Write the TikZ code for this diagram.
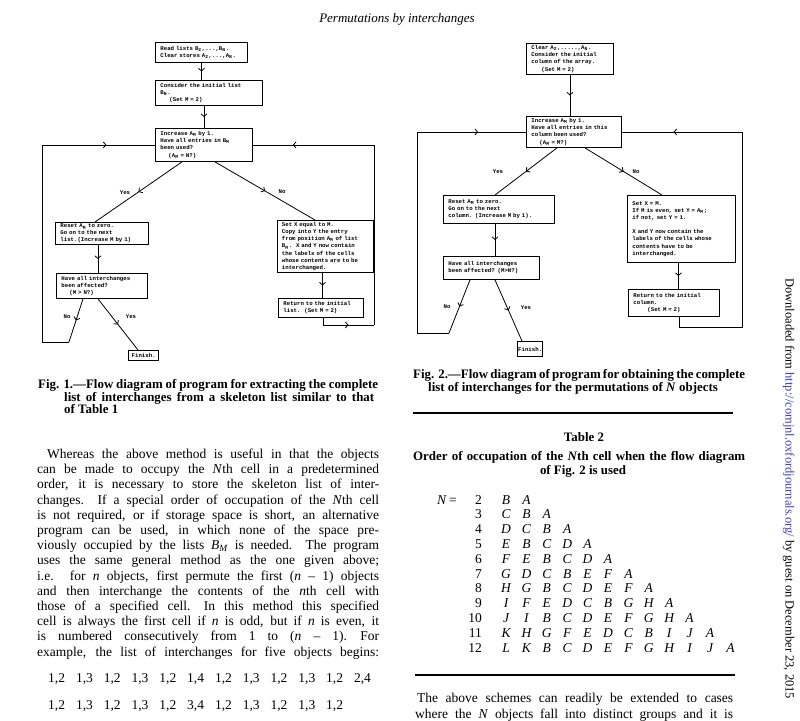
\documentclass[tikz,border=0pt]{standalone}
\usepackage{fontspec}
\setmainfont{Liberation Serif}
\newfontfamily\twfont{Liberation Mono}
\usetikzlibrary{arrows.meta,decorations.markings}
\newcommand{\mysub}[1]{\raisebox{-1.1pt}{\makebox[3.42pt][l]{\fontsize{4.6}{5}\selectfont #1}}}
\definecolor{linkblue}{RGB}{60,60,200}
\begin{document}
\begin{tikzpicture}[x=1pt,y=-1pt,
  fbox/.style={draw, line width=0.9pt, anchor=north west, inner xsep=5pt, inner ysep=0.5pt,
    align=left, font=\twfont\bfseries\fontsize{5.7}{7.1}\selectfont},
  finbox/.style={fbox, line width=1.4pt, align=center},
  lbl/.style={inner sep=0pt, font=\twfont\bfseries\fontsize{5.7}{7}\selectfont},
  conn/.style={line width=0.8pt},
  midarrow/.style={conn, postaction={decorate}, decoration={markings,
    mark=at position #1 with {\arrow{Straight Barb[length=2.6pt,width=6pt,line width=0.8pt]}}}},
  midarrow/.default=0.5,
  bodytxt/.style={anchor=base west, inner sep=0pt, font=\fontsize{13.5}{15}\selectfont},
  captxt/.style={anchor=base west, inner sep=0pt, font=\bfseries\fontsize{12.9}{14}\selectfont},
  captc/.style={anchor=base, inner sep=0pt, font=\bfseries\fontsize{12.9}{14}\selectfont},
  numtxt/.style={anchor=base east, inner sep=0pt, font=\fontsize{13.5}{15}\selectfont},
  lettxt/.style={anchor=base, inner sep=0pt, font=\itshape\fontsize{13.5}{15}\selectfont},
  rulel/.style={line width=1.1pt}]
\clip (0,0) rectangle (800,720);
\fill[white] (0,0) rectangle (800,720);

% header
\node[anchor=base, inner sep=0pt, font=\itshape\fontsize{13}{15}\selectfont] (hdr) at (397,22) {Permutations by interchanges};

% ---------------- Fig. 1 ----------------
\node[fbox, minimum width=92pt, minimum height=20pt, text width=82pt] (a1) at (155,42)
  {Read lists B\mysub{2},...,B\mysub{N}.\\Clear stores A\mysub{2},...,A\mysub{N}.};
\node[fbox, minimum width=107pt, minimum height=25pt, text width=97pt] (a2) at (155,80)
  {Consider the initial list\\B\mysub{N}.\\\hspace*{9pt}(Set M = 2)};
\node[fbox, minimum width=97pt, minimum height=33pt, text width=87pt] (a3) at (155,128)
  {Increase A\mysub{M} by 1.\\Have all entries in B\mysub{M}\\been used?\\\hspace*{8pt}(A\mysub{M} = N?)};
\node[fbox, minimum width=93pt, minimum height=22pt, text width=83pt,
  font=\twfont\bfseries\fontsize{5.7}{6.8}\selectfont] (a4) at (55,222)
  {Reset A\mysub{M} to zero.\\Go on to the next\\list.(Increase M by 1)};
\node[fbox, minimum width=96pt, minimum height=52pt, text width=87pt, inner xsep=4.5pt] (a5) at (277,220)
  {Set X equal to M.\\Copy into Y the entry\\from position A\mysub{M} of list\\B\mysub{M}.~~X and Y now contain\\the labels of the cells\\whose contents are to be\\interchanged.};
\node[fbox, minimum width=85pt, minimum height=19pt, text width=75pt] (a6) at (278,298)
  {Return to the initial\\list.~~(Set M = 2)};
\node[fbox, minimum width=91pt, minimum height=25pt, text width=81pt] (a7) at (56,273)
  {Have all interchanges\\been affected?\\\hspace*{8pt}(M > N?)};
\node[finbox, minimum width=30pt, minimum height=10pt, text width=25pt, inner xsep=2.5pt] (a8) at (128,350) {Finish.};

\draw[midarrow] (a1.south) -- (a1.south |- a2.north);
\draw[midarrow] (a3.north |- a2.south) -- (a3.north);
\draw[midarrow] ([xshift=27pt]a3.south west) -- ([xshift=40pt]a4.north west);
\draw[midarrow] ([xshift=60pt]a3.south west) -- ([xshift=38pt]a5.north west);
\coordinate (a4s) at ([xshift=-4pt]a4.south);
\draw[midarrow] (a4s) -- (a4s |- a7.north);
\coordinate (a5s) at ([xshift=-3pt]a5.south);
\draw[midarrow] (a5s) -- (a5s |- a6.north);
\draw[midarrow] ([xshift=42pt]a7.south west) -- ([xshift=10pt]a8.north west);
\coordinate (c1) at (69,342);
\coordinate (c2) at (42,342);
\draw[midarrow] ([xshift=27pt]a7.south west) -- (c1);
\draw[conn] (c1) -- (c2) -- (c2 |- a3.west);
\draw[midarrow=0.57] (c2 |- a3.west) -- (a3.west);
\coordinate (a6s) at ([xshift=2pt]a6.south);
\coordinate (d1) at (374,325);
\draw[conn] (a6s) -- (a6s |- d1);
\draw[midarrow] (a6s |- d1) -- (d1);
\draw[conn] (d1) -- (d1 |- a3.east);
\draw[midarrow=0.67] (d1 |- a3.east) -- (a3.east);

\node[lbl] (y1) at (125,193) {Yes};
\node[lbl] (n1) at (282,192) {No};
\node[lbl] (n2) at (67,317) {No};
\node[lbl] (y2) at (131,317) {Yes};

% ---------------- Fig. 2 ----------------
\node[fbox, minimum width=87pt, minimum height=31pt, text width=77pt] (b1) at (526,43)
  {Clear A\mysub{2},.....,A\mysub{N}.\\Consider the initial\\column of the array.\\\hspace*{10pt}(Set M = 2)};
\node[fbox, minimum width=95pt, minimum height=31pt, text width=85pt] (b2) at (526,116)
  {Increase A\mysub{M} by 1.\\Have all entries in this\\column been used?\\\hspace*{8pt}(A\mysub{M} = M?)};
\node[fbox, minimum width=111pt, minimum height=28pt, text width=101pt] (b3) at (443,195)
  {Reset A\mysub{M} to zero.\\Go on to the next\\column. (Increase M by 1).};
\node[fbox, minimum width=108pt, minimum height=67pt, text width=98pt] (b4) at (627,195)
  {Set X = M.\\If M is even, set Y = A\mysub{M};\\if not, set Y = 1.\\[7.1pt]X and Y now contain the\\labels of the cells whose\\contents have to be\\interchanged.};
\node[fbox, minimum width=96pt, minimum height=23pt, text width=86pt] (b5) at (443,256)
  {Have all interchanges\\been affected? (M>N?)};
\node[fbox, minimum width=91pt, minimum height=27pt, text width=81pt] (b6) at (628,289)
  {Return to the initial\\column.\\\hspace*{14pt}(Set M = 2)};
\node[finbox, minimum width=25pt, minimum height=15pt, text width=24pt, inner xsep=0.5pt] (b7) at (517,341) {Finish.};

\draw[midarrow] (b1.south) -- (b1.south |- b2.north);
\draw[midarrow] ([xshift=31pt]b2.south west) -- ([xshift=52pt]b3.north west);
\draw[midarrow] ([xshift=59pt]b2.south west) -- ([xshift=35pt]b4.north west);
\coordinate (b3s) at ([xshift=-4pt]b3.south);
\draw[midarrow] (b3s) -- (b3s |- b5.north);
\coordinate (e1) at (449,333);
\coordinate (e2) at (417,333);
\draw[midarrow] ([xshift=27pt]b5.south west) -- (e1);
\draw[conn] (e1) -- (e2) -- (e2 |- b2.west);
\draw[midarrow=0.56] (e2 |- b2.west) -- (b2.west);
\draw[midarrow] ([xshift=52pt]b5.south west) -- ([xshift=5pt]b7.north west);
\coordinate (b4s) at ([xshift=-3pt]b4.south);
\draw[midarrow] (b4s) -- (b4s |- b6.north);
\coordinate (b6s) at ([xshift=5pt]b6.south);
\coordinate (f1) at (742,327);
\draw[conn] (b6s) -- (b6s |- f1) -- (f1) -- (f1 |- b2.east);
\draw[midarrow=0.57] (f1 |- b2.east) -- (b2.east);

\node[lbl] (y3) at (498,172) {Yes};
\node[lbl] (n3) at (636,172) {No};
\node[lbl] (n4) at (447,307) {No};
\node[lbl] (y4) at (526,308) {Yes};

% ---------------- captions ----------------
\node[captxt] (cap1a) at (38,388.5) {\makebox[340pt][s]{Fig. 1.---Flow diagram of program for extracting the complete}};
\node[captxt] (cap1b) at (64,401) {\makebox[310pt][s]{list of interchanges from a skeleton list similar to that}};
\node[captxt] (cap1c) at (64,413.5) {of Table 1};

\node[captxt] (cap2a) at (413,378.5) {\makebox[332pt][s]{Fig. 2.---Flow diagram of program for obtaining the complete}};
\node[captc] (cap2b) at (573,391.5) {list of interchanges for the permutations of \textit{N} objects};

\draw[rulel] (413,413) -- (733,413);
\node[captc] (tab) at (584,441.5) {Table 2};
\node[captxt] (tta) at (413,460.5) {\makebox[332pt][s]{Order of occupation of the \textit{N}th cell when the flow diagram}};
\node[captc] (ttb) at (583,474.5) {of Fig. 2 is used};

% ---------------- table ----------------
\node[bodytxt] (neq) at (437,504) {\textit{N}\,=};
\foreach \n/\row [count=\i from 0] in {2/{B,A},3/{C,B,A},4/{D,C,B,A},5/{E,B,C,D,A},
  6/{F,E,B,C,D,A},7/{G,D,C,B,E,F,A},8/{H,G,B,C,D,E,F,A},9/{I,F,E,D,C,B,G,H,A},
  10/{J,I,B,C,D,E,F,G,H,A},11/{K,H,G,F,E,D,C,B,I,J,A},12/{L,K,B,C,D,E,F,G,H,I,J,A}} {
  \node[numtxt] (n\n) at (482,504+14.8*\i) {\n};
  \foreach \L [count=\k from 0] in \row {
    \node[lettxt] (l\n-\k) at (506+20.4*\k,504+14.8*\i) {\L};
  }
}
\draw[rulel] (415,675) -- (735,675);

% ---------------- body text ----------------
\node[bodytxt] (t1) at (47,458.5) {\makebox[332pt][s]{Whereas the above method is useful in that the objects}};
\node[bodytxt] (t2) at (37,473.7) {\makebox[342pt][s]{can be made to occupy the \textit{N}th cell in a predetermined}};
\node[bodytxt] (t3) at (37,488.9) {\makebox[342pt][s]{order, it is necessary to store the skeleton list of inter-}};
\node[bodytxt] (t4) at (37,504.1) {\makebox[342pt][s]{changes.\quad If a special order of occupation of the \textit{N}th cell}};
\node[bodytxt] (t5) at (37,519.3) {\makebox[342pt][s]{is not required, or if storage space is short, an alternative}};
\node[bodytxt] (t6) at (37,534.5) {\makebox[342pt][s]{program can be used, in which none of the space pre-}};
\node[bodytxt] (t7) at (37,549.7) {\makebox[342pt][s]{viously occupied by the lists \textit{B}\textsubscript{\textit{M}} is needed.\quad The program}};
\node[bodytxt] (t8) at (37,564.9) {\makebox[342pt][s]{uses the same general method as the one given above;}};
\node[bodytxt] (t9) at (37,580.1) {\makebox[342pt][s]{i.e. for \textit{n} objects, first permute the first (\textit{n} -- 1) objects}};
\node[bodytxt] (t10) at (37,595.3) {\makebox[342pt][s]{and then interchange the contents of the \textit{n}th cell with}};
\node[bodytxt] (t11) at (37,610.5) {\makebox[342pt][s]{those of a specified cell.\quad In this method this specified}};
\node[bodytxt] (t12) at (37,625.7) {\makebox[342pt][s]{cell is always the first cell if \textit{n} is odd, but if \textit{n} is even, it}};
\node[bodytxt] (t13) at (37,640.9) {\makebox[342pt][s]{is numbered consecutively from 1 to (\textit{n} -- 1).\quad For}};
\node[bodytxt] (t14) at (37,656.1) {\makebox[342pt][s]{example, the list of interchanges for five objects begins:}};

\foreach \a/\b [count=\k from 0] in {1/2,1/3,1/2,1/3,1/2,1/4,1/2,1/3,1/2,1/3,1/2,2/4} {
  \node[bodytxt] (pa\k) at (48+27.8*\k,682) {\a,\b};
}
\foreach \a/\b [count=\k from 0] in {1/2,1/3,1/2,1/3,1/2,3/4,1/2,1/3,1/2,1/3,1/2} {
  \node[bodytxt] (pb\k) at (48+27.8*\k,709) {\a,\b};
}

\node[bodytxt] (u1) at (417,702) {\makebox[316pt][s]{The above schemes can readily be extended to cases}};
\node[bodytxt] (u2) at (415,718.5) {\makebox[318pt][s]{where the \textit{N} objects fall into distinct groups and it is}};

% ---------------- side note ----------------
\node[rotate=-90, anchor=base west, inner sep=0pt, font=\fontsize{12.5}{13}\selectfont] (side) at (785.5,278)
  {Downloaded from \textcolor{linkblue}{http://comjnl.oxfordjournals.org/} by guest on December 23, 2015};
\end{tikzpicture}
\end{document}
